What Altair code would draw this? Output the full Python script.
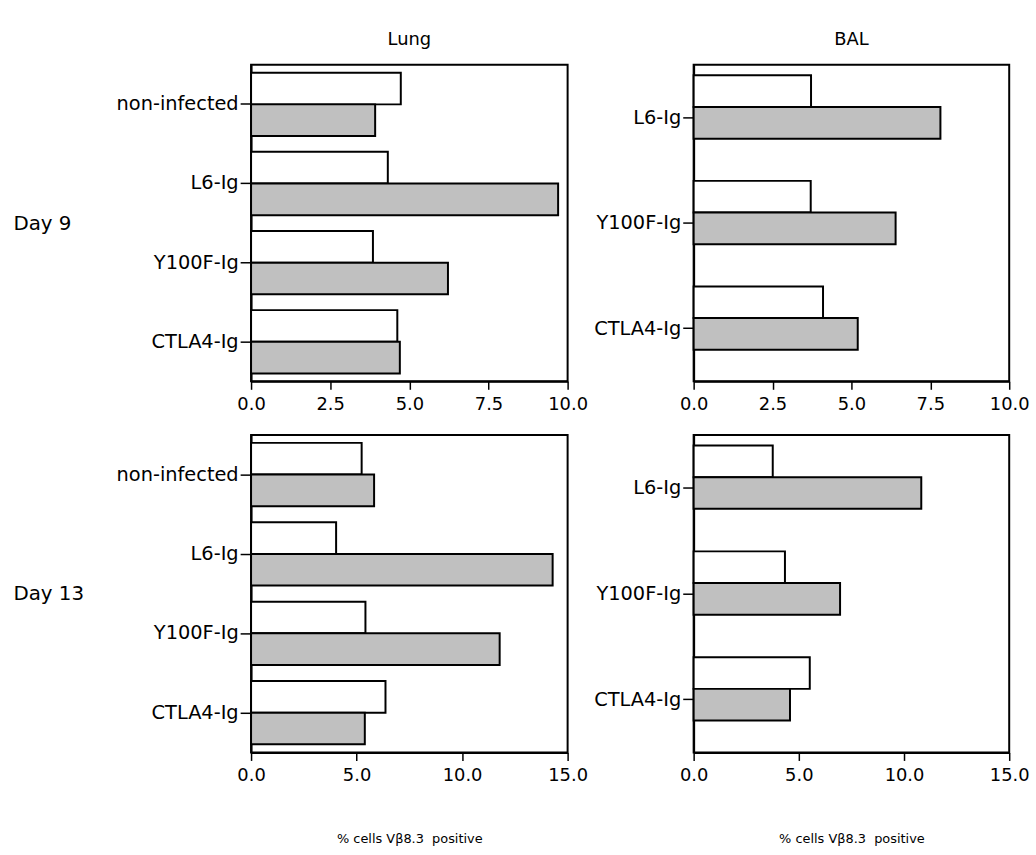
import altair as alt
import pandas as pd

lung_cats = ["non-infected", "L6-Ig", "Y100F-Ig", "CTLA4-Ig"]
bal_cats = ["L6-Ig", "Y100F-Ig", "CTLA4-Ig"]
series = ["open", "shaded"]

lung9_open = [4.73, 4.32, 3.85, 4.62]
lung9_shaded = [3.92, 9.70, 6.22, 4.70]
bal9_open = [3.72, 3.71, 4.10]
bal9_shaded = [7.82, 6.40, 5.20]
lung13_open = [5.24, 4.03, 5.42, 6.37]
lung13_shaded = [5.83, 14.29, 11.78, 5.39]
bal13_open = [3.76, 4.34, 5.52]
bal13_shaded = [10.82, 6.96, 4.58]

ticks9 = [0, 2.5, 5, 7.5, 10]
ticks13 = [0, 5, 10, 15]
xtitle = "% cells V\u03b28.3\u00a0 positive"
FONT = "DejaVu Sans"


def frame(cats, a, b):
    rows = []
    for c, v in zip(cats, a):
        rows.append({"cat": c, "series": "open", "value": v})
    for c, v in zip(cats, b):
        rows.append({"cat": c, "series": "shaded", "value": v})
    return pd.DataFrame(rows)


def panel(cats, a, b, xmax, ticks, w, h, day=None, col=None, bottom=False):
    yaxis_kw = dict(
        domainColor="black", domainWidth=2, tickColor="black", tickWidth=1.5,
        tickSize=11, labelPadding=2, labelFontSize=19.5, labelColor="black",
        labelFont=FONT, grid=False,
    )
    if day:
        yaxis_kw.update(title=day, titleAngle=0, titleX=-240, titleY=h / 2,
                        titleAlign="left", titleBaseline="middle",
                        titleFontSize=20, titleFontWeight="normal",
                        titleFont=FONT, titleColor="black")
    else:
        yaxis_kw.update(title=None)
    xaxis_kw = dict(
        values=ticks, format=".1f", labelFlush=False, labelOverlap=False,
        domainColor="black", domainWidth=2, tickColor="black", tickWidth=1.5,
        tickSize=8, labelPadding=6, labelFontSize=18, labelColor="black",
        labelFont=FONT, grid=False,
    )
    if bottom:
        xaxis_kw.update(title=xtitle, titlePadding=49, titleFontSize=13,
                        titleFontWeight="normal", titleFont=FONT,
                        titleColor="black")
    else:
        xaxis_kw.update(title=None)
    ch = alt.Chart(frame(cats, a, b)).mark_bar(
        stroke="black", strokeWidth=2
    ).encode(
        y=alt.Y("cat:N", sort=cats,
                scale=alt.Scale(paddingInner=0.2, paddingOuter=0.1),
                axis=alt.Axis(**yaxis_kw)),
        yOffset=alt.YOffset("series:N", sort=series,
                            scale=alt.Scale(paddingInner=0, paddingOuter=0)),
        x=alt.X("value:Q", scale=alt.Scale(domain=[0, xmax], nice=False,
                                           zero=True),
                axis=alt.Axis(**xaxis_kw)),
        fill=alt.Fill("series:N", scale=alt.Scale(domain=series,
                                                  range=["white", "#c0c0c0"]),
                      legend=None),
    )
    props = dict(width=w, height=h)
    if col:
        props["title"] = alt.TitleParams(col, fontSize=18, fontWeight="normal",
                                         font=FONT, color="black", offset=16,
                                         anchor="middle", frame="group")
    return ch.properties(**props)


lung9 = panel(lung_cats, lung9_open, lung9_shaded, 10, ticks9, 319, 319,
              day="Day 9", col="Lung")
bal9 = panel(bal_cats, bal9_open, bal9_shaded, 10, ticks9, 318, 319,
             col="BAL")
lung13 = panel(lung_cats, lung13_open, lung13_shaded, 15, ticks13, 319, 320,
               day="Day 13", bottom=True)
bal13 = panel(bal_cats, bal13_open, bal13_shaded, 15, ticks13, 318, 320,
              bottom=True)

chart = alt.concat(
    lung9, bal9, lung13, bal13, columns=2,
    spacing={"row": 54, "column": 127}, bounds="flush"
).properties(
    padding={"left": 12, "top": 27, "right": 5, "bottom": 5}
).configure(
    font=FONT, background="white",
    view=alt.ViewConfig(stroke="black", strokeWidth=2),
)

chart.save("out.html", embed_options={"renderer": "svg", "actions": False})
